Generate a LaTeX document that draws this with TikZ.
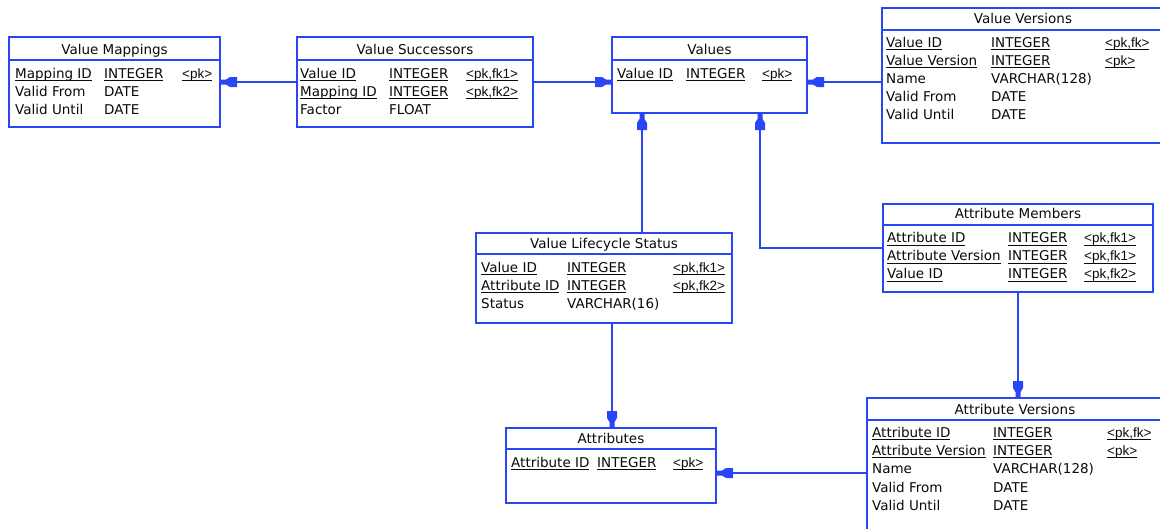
\documentclass[tikz,border=0pt]{standalone}
\usepackage{fontspec}
\setmainfont{DejaVu Sans}
\newfontfamily\keyfont{Liberation Sans}
\definecolor{erblue}{RGB}{40,70,245}
\definecolor{txtc}{RGB}{10,10,10}
\newcommand\ulx[1]{\setbox0\hbox{#1}\rlap{\color{txtc}\rule[-3pt]{\wd0}{1pt}}\box0}
\newcommand\kx[1]{{\keyfont\fontsize{13.5pt}{15pt}\selectfont #1}}
\newcommand\cell[4]{\node[col] (#1) at (#2,#3) {#4};}
\tikzset{
  tbl/.style={draw=erblue, line width=1.6pt, rectangle, inner sep=0pt, outer sep=0pt, anchor=north west},
  conn/.style={draw=erblue, line width=1.6pt},
  hdr/.style={draw=erblue, line width=1.6pt},
  ttl/.style={anchor=base, inner sep=0pt, text=txtc},
  col/.style={anchor=base west, inner sep=0pt, text=txtc},
  fkhead/.pic={\fill[erblue] (0,-2.5) -- (6,-2.5) -- (10,-5) -- (17,-5) -- (17,5) -- (10,5) -- (6,2.5) -- (0,2.5) -- cycle;}
}
\begin{document}
\begin{tikzpicture}[x=1pt,y=-1pt,font=\fontsize{13.5pt}{16pt}\selectfont]
\useasboundingbox (0,0) rectangle (1160,528);
\clip (0,0) rectangle (1160,528);
\fill[white] (0,0) rectangle (1160,528);

% ---------- boxes ----------
\node[tbl, minimum width=211pt, minimum height=90pt] (vm) at (9,37) {};
\node[tbl, minimum width=236pt, minimum height=90pt] (vs) at (297,37) {};
\node[tbl, minimum width=195pt, minimum height=76pt] (values) at (612,37) {};
\node[tbl, minimum width=282pt, minimum height=135pt] (vv) at (882,8) {};
\node[tbl, minimum width=270pt, minimum height=88pt] (am) at (883,204) {};
\node[tbl, minimum width=256pt, minimum height=90pt] (vls) at (476,233) {};
\node[tbl, minimum width=210pt, minimum height=75pt] (attr) at (506,428) {};
\node[tbl, minimum width=296pt, minimum height=150pt] (av) at (867,398) {};

% header lines
\draw[hdr] (vm.west |- 0,60) -- (vm.east |- 0,60);
\draw[hdr] (vs.west |- 0,60) -- (vs.east |- 0,60);
\draw[hdr] (values.west |- 0,60) -- (values.east |- 0,60);
\draw[hdr] (vv.west |- 0,30) -- (vv.east |- 0,30);
\draw[hdr] (am.west |- 0,225) -- (am.east |- 0,225);
\draw[hdr] (vls.west |- 0,254) -- (vls.east |- 0,254);
\draw[hdr] (attr.west |- 0,449) -- (attr.east |- 0,449);
\draw[hdr] (av.west |- 0,420) -- (av.east |- 0,420);

% titles
\node[ttl] (vm-t) at (vm.north |- 0,54) {Value Mappings};
\node[ttl] (vs-t) at (vs.north |- 0,54) {Value Successors};
\node[ttl] (values-t) at (values.north |- 0,54) {Values};
\node[ttl] (vv-t) at (vv.north |- 0,23.5) {Value Versions};
\node[ttl] (am-t) at (am.north |- 0,218.5) {Attribute Members};
\node[ttl] (vls-t) at (vls.north |- 0,248) {Value Lifecycle Status};
\node[ttl] (attr-t) at (attr.north |- 0,443) {Attributes};
\node[ttl] (av-t) at (av.north |- 0,414) {Attribute Versions};

% Value Mappings
\cell{vm11}{15}{78}{\ulx{Mapping ID}}
\cell{vm12}{104}{78}{\ulx{INTEGER}}
\cell{vm13}{182}{78}{\ulx{\kx{<pk>}}}
\cell{vm21}{15}{96}{Valid From}
\cell{vm22}{104}{96}{DATE}
\cell{vm31}{15}{114}{Valid Until}
\cell{vm32}{104}{114}{DATE}

% Value Successors
\cell{vs11}{300}{78}{\ulx{Value ID}}
\cell{vs12}{389}{78}{\ulx{INTEGER}}
\cell{vs13}{466}{78}{\ulx{\kx{<pk,fk1>}}}
\cell{vs21}{300}{96}{\ulx{Mapping ID}}
\cell{vs22}{389}{96}{\ulx{INTEGER}}
\cell{vs23}{466}{96}{\ulx{\kx{<pk,fk2>}}}
\cell{vs31}{300}{114}{Factor}
\cell{vs32}{389}{114}{FLOAT}

% Values
\cell{va11}{617}{78}{\ulx{Value ID}}
\cell{va12}{686}{78}{\ulx{INTEGER}}
\cell{va13}{762}{78}{\ulx{\kx{<pk>}}}

% Value Versions
\cell{vv11}{886}{47}{\ulx{Value ID}}
\cell{vv12}{991}{47}{\ulx{INTEGER}}
\cell{vv13}{1105}{47}{\ulx{\kx{<pk,fk>}}}
\cell{vv21}{886}{65}{\ulx{Value Version}}
\cell{vv22}{991}{65}{\ulx{INTEGER}}
\cell{vv23}{1105}{65}{\ulx{\kx{<pk>}}}
\cell{vv31}{886}{83}{Name}
\cell{vv32}{991}{83}{VARCHAR(128)}
\cell{vv41}{886}{101}{Valid From}
\cell{vv42}{991}{101}{DATE}
\cell{vv51}{886}{119}{Valid Until}
\cell{vv52}{991}{119}{DATE}

% Attribute Members
\cell{am11}{887}{242.5}{\ulx{Attribute ID}}
\cell{am12}{1008}{242.5}{\ulx{INTEGER}}
\cell{am13}{1084}{242.5}{\ulx{\kx{<pk,fk1>}}}
\cell{am21}{887}{260.5}{\ulx{Attribute Version}}
\cell{am22}{1008}{260.5}{\ulx{INTEGER}}
\cell{am23}{1084}{260.5}{\ulx{\kx{<pk,fk1>}}}
\cell{am31}{887}{278.5}{\ulx{Value ID}}
\cell{am32}{1008}{278.5}{\ulx{INTEGER}}
\cell{am33}{1084}{278.5}{\ulx{\kx{<pk,fk2>}}}

% Value Lifecycle Status
\cell{vl11}{481}{272}{\ulx{Value ID}}
\cell{vl12}{567}{272}{\ulx{INTEGER}}
\cell{vl13}{673}{272}{\ulx{\kx{<pk,fk1>}}}
\cell{vl21}{481}{290}{\ulx{Attribute ID}}
\cell{vl22}{567}{290}{\ulx{INTEGER}}
\cell{vl23}{673}{290}{\ulx{\kx{<pk,fk2>}}}
\cell{vl31}{481}{308}{Status}
\cell{vl32}{567}{308}{VARCHAR(16)}

% Attributes
\cell{at11}{511}{467}{\ulx{Attribute ID}}
\cell{at12}{597}{467}{\ulx{INTEGER}}
\cell{at13}{673}{467}{\ulx{\kx{<pk>}}}

% Attribute Versions
\cell{av11}{872}{437}{\ulx{Attribute ID}}
\cell{av12}{993}{437}{\ulx{INTEGER}}
\cell{av13}{1107}{437}{\ulx{\kx{<pk,fk>}}}
\cell{av21}{872}{455}{\ulx{Attribute Version}}
\cell{av22}{993}{455}{\ulx{INTEGER}}
\cell{av23}{1107}{455}{\ulx{\kx{<pk>}}}
\cell{av31}{872}{473}{Name}
\cell{av32}{993}{473}{VARCHAR(128)}
\cell{av41}{872}{492}{Valid From}
\cell{av42}{993}{492}{DATE}
\cell{av51}{872}{510}{Valid Until}
\cell{av52}{993}{510}{DATE}

% ---------- connectors ----------
\coordinate (cy) at (0,82);
\coordinate (c4) at (642,0);
\coordinate (c5) at (760,0);
\coordinate (c6) at (612,0);
\coordinate (c8) at (0,473);

\draw[conn] (vs.west |- cy) -- (vm.east |- cy);
\pic at (vm.east |- cy) {fkhead};

\draw[conn] (vs.east |- cy) -- (values.west |- cy);
\pic[rotate=180] at (values.west |- cy) {fkhead};

\draw[conn] (vv.west |- cy) -- (values.east |- cy);
\pic at (values.east |- cy) {fkhead};

\draw[conn] (vls.north -| c4) -- (values.south -| c4);
\pic[rotate=-90] at (values.south -| c4) {fkhead};

\draw[conn] (am.west) -- (am.west -| c5) -- (values.south -| c5);
\pic[rotate=-90] at (values.south -| c5) {fkhead};

\draw[conn] (vls.south -| c6) -- (attr.north -| c6);
\pic[rotate=90] at (attr.north -| c6) {fkhead};

\draw[conn] (am.south) -- (am.south |- av.north);
\pic[rotate=90] at (am.south |- av.north) {fkhead};

\draw[conn] (av.west |- c8) -- (attr.east |- c8);
\pic at (attr.east |- c8) {fkhead};
\end{tikzpicture}
\end{document}
